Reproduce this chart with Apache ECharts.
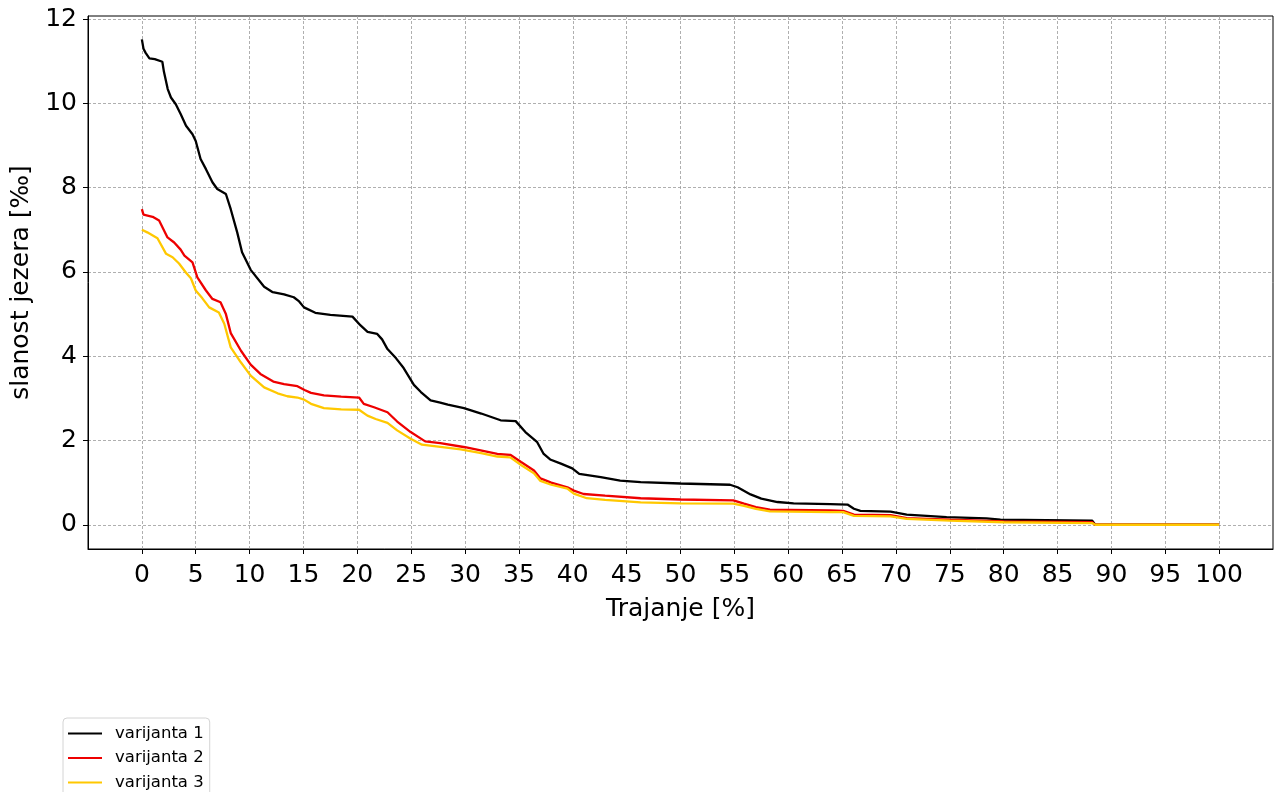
<!DOCTYPE html>
<html>
<head>
<meta charset="utf-8">
<script src="https://cdn.jsdelivr.net/npm/echarts@6/dist/echarts.min.js"></script>
<style>
  html, body { margin: 0; padding: 0; background: #fff; }
  #chart { width: 1274px; height: 792px; }
</style>
</head>
<body>
<div id="chart"></div>
<script>
// Duration curves of lake salinity: [trajanje %, slanost ‰]
const varijanta1 = [
  [0, 11.52], [0.15, 11.3], [0.35, 11.2], [0.7, 11.07], [1.2, 11.05], [1.9, 10.99],
  [2.05, 10.75], [2.4, 10.34], [2.7, 10.14], [3.15, 9.98], [3.6, 9.75], [4.1, 9.47],
  [4.7, 9.27], [5.0, 9.11], [5.45, 8.68], [5.95, 8.44], [6.55, 8.13], [7.0, 7.97],
  [7.8, 7.85], [8.25, 7.49], [8.85, 6.94], [9.3, 6.47], [10.1, 6.05], [11.35, 5.65],
  [12.15, 5.52], [13.2, 5.47], [14.1, 5.4], [14.6, 5.3], [15.05, 5.16], [16.1, 5.03],
  [17.5, 4.98], [19.55, 4.94], [20.3, 4.73], [20.95, 4.58], [21.85, 4.53], [22.3, 4.4],
  [22.8, 4.17], [23.6, 3.95], [24.3, 3.72], [25.25, 3.32], [25.9, 3.15], [26.8, 2.95],
  [27.7, 2.9], [28.4, 2.85], [29.9, 2.77], [31.5, 2.64], [33.3, 2.48], [34.7, 2.46],
  [35.6, 2.2], [36.7, 1.96], [37.3, 1.68], [37.9, 1.55], [38.9, 1.45], [39.95, 1.34],
  [40.6, 1.21], [42.6, 1.13], [44.4, 1.05], [46.3, 1.01], [50, 0.98], [54.6, 0.95],
  [55.3, 0.89], [56.5, 0.72], [57.5, 0.62], [59, 0.54], [60.5, 0.51], [63.9, 0.49],
  [65.5, 0.48], [66.1, 0.38], [66.7, 0.33], [69.5, 0.31], [71, 0.24], [74.7, 0.18],
  [78.4, 0.15], [79.7, 0.12], [88.2, 0.1], [88.5, 0.0], [100, 0]
];
const varijanta2 = [
  [0, 7.49], [0.15, 7.36], [1.0, 7.31], [1.6, 7.22], [2.38, 6.82], [3.0, 6.7],
  [3.6, 6.53], [3.95, 6.39], [4.7, 6.23], [5.15, 5.87], [5.95, 5.56], [6.55, 5.36],
  [7.3, 5.28], [7.8, 5.0], [8.25, 4.55], [9.2, 4.13], [10.1, 3.8], [11.0, 3.58],
  [12.2, 3.4], [13.2, 3.34], [14.44, 3.29], [15.1, 3.2], [15.7, 3.13], [16.9, 3.07],
  [18.5, 3.04], [20.16, 3.02], [20.6, 2.87], [21.55, 2.79], [22.8, 2.67], [23.7, 2.45],
  [24.95, 2.2], [26.3, 1.98], [27.7, 1.94], [30, 1.84], [33, 1.68], [34.2, 1.66],
  [35.2, 1.49], [36.4, 1.29], [37, 1.1], [38, 1.0], [39.5, 0.89], [40.1, 0.81],
  [41, 0.73], [43, 0.69], [46.3, 0.63], [50, 0.6], [54.9, 0.58], [55.9, 0.5],
  [57, 0.42], [58.3, 0.36], [63.9, 0.34], [65.1, 0.33], [66.1, 0.24], [69.5, 0.23],
  [71, 0.16], [75, 0.12], [80, 0.08], [88.2, 0.06], [88.5, 0.0], [100, 0]
];
const varijanta3 = [
  [0, 7.0], [0.5, 6.94], [1.45, 6.8], [2.25, 6.43], [2.85, 6.35], [3.45, 6.2],
  [4.1, 5.98], [4.55, 5.85], [5.0, 5.56], [5.6, 5.38], [6.25, 5.16], [7.15, 5.04],
  [7.65, 4.77], [8.25, 4.21], [9.2, 3.85], [10.1, 3.54], [11.35, 3.26], [12.6, 3.12],
  [13.5, 3.05], [14.44, 3.02], [15.06, 2.97], [15.7, 2.87], [16.9, 2.77], [18.5, 2.74],
  [20.16, 2.73], [20.94, 2.59], [21.7, 2.51], [22.8, 2.42], [23.7, 2.24], [24.95, 2.04],
  [26.0, 1.9], [27.7, 1.85], [29.6, 1.79], [31.5, 1.7], [33, 1.62], [34.2, 1.6],
  [35.2, 1.42], [36.4, 1.22], [37, 1.04], [38, 0.95], [39.5, 0.86], [40.1, 0.74],
  [41.3, 0.63], [43, 0.59], [46.3, 0.53], [50, 0.51], [54.9, 0.5], [55.9, 0.45],
  [57, 0.38], [58.3, 0.32], [63.9, 0.3], [65.1, 0.3], [66.1, 0.21], [69.5, 0.2],
  [71, 0.14], [75, 0.1], [80, 0.06], [88.2, 0.04], [88.5, 0.0], [100, 0]
];

const seriesNames = ['varijanta 1', 'varijanta 2', 'varijanta 3'];
const seriesColors = ['#000000', '#ee0000', '#ffc800'];
const xTicks = [0, 5, 10, 15, 20, 25, 30, 35, 40, 45, 50, 55, 60, 65, 70, 75, 80, 85, 90, 95, 100];
const yTicks = [0, 2, 4, 6, 8, 10, 12];

const FONT = 'DejaVu Sans';
const gridLine = { show: true, lineStyle: { color: '#9a9a9a', width: 0.8, type: [3, 2] } };

const chart = echarts.init(document.getElementById('chart'), null, { renderer: 'canvas' });

const option = {
  animation: false,
  backgroundColor: '#ffffff',
  grid: {
    left: 88, right: 1, top: 16, bottom: 243,
    show: true, borderColor: '#000', borderWidth: 1, backgroundColor: 'transparent'
  },
  legend: {
    orient: 'vertical',
    left: 63, top: 718, height: 100,
    padding: [7, 6, 8, 5],
    itemWidth: 34, itemHeight: 2, itemGap: 7.5,
    icon: 'rect',
    backgroundColor: '#fff',
    borderColor: '#d4d4d4', borderWidth: 1, borderRadius: 4,
    textStyle: { fontFamily: FONT, fontSize: 16.5, color: '#000', padding: [0, 0, 0, 8] },
    data: seriesNames
  },
  xAxis: {
    type: 'value',
    min: -5, max: 105, interval: 5,
    name: 'Trajanje [%]', nameLocation: 'middle', nameGap: 48,
    nameTextStyle: { fontFamily: FONT, fontSize: 25, color: '#000' },
    axisLine: { show: true, onZero: false, lineStyle: { color: '#000', width: 1 } },
    axisTick: { show: true, length: 5, inside: false, customValues: xTicks, lineStyle: { color: '#000' } },
    axisLabel: { customValues: xTicks, margin: 14, fontFamily: FONT, fontSize: 25, color: '#000' },
    splitLine: gridLine
  },
  yAxis: {
    type: 'value',
    min: -0.575, max: 12.075,
    name: 'slanost jezera [‰]', nameLocation: 'middle', nameGap: 53,
    nameTextStyle: { fontFamily: FONT, fontSize: 25, color: '#000' },
    axisLine: { show: true, onZero: false, lineStyle: { color: '#000', width: 1 } },
    axisTick: { show: true, length: 5, inside: false, customValues: yTicks, lineStyle: { color: '#000' } },
    axisLabel: { customValues: yTicks, margin: 11, fontFamily: FONT, fontSize: 25, color: '#000' },
    splitLine: gridLine
  },
  series: [varijanta1, varijanta2, varijanta3].map((d, i) => ({
    name: seriesNames[i],
    type: 'line',
    data: d,
    showSymbol: false,
    symbol: 'none',
    color: seriesColors[i],
    lineStyle: { color: seriesColors[i], width: 2.3 },
    z: 3 + i
  }))
};

chart.setOption(option);
</script>
</body>
</html>
